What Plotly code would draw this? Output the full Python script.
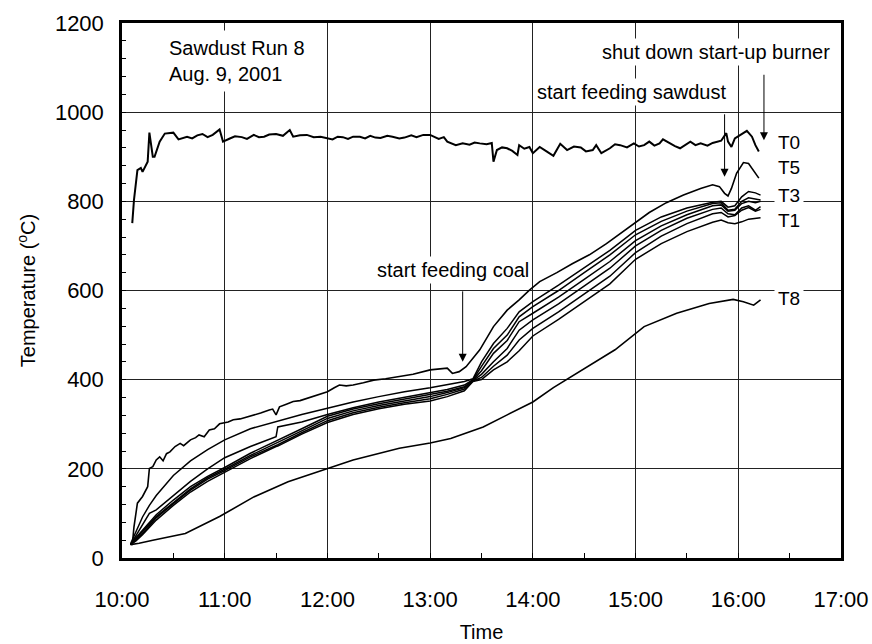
import plotly.graph_objects as go

DAY = "2001-08-09 "

# Furnace thermocouple T0
t0_time = ["10:06", "10:07", "10:09", "10:11", "10:12", "10:15", "10:16", "10:18", "10:19", "10:22",
           "10:25", "10:30", "10:33", "10:36", "10:38", "10:41", "10:44", "10:47", "10:50", "10:53",
           "10:57", "10:59", "11:01", "11:03", "11:06", "11:10", "11:13", "11:17", "11:20", "11:23",
           "11:26", "11:30", "11:34", "11:38", "11:40", "11:44", "11:48", "11:52", "11:56", "12:00",
           "12:03", "12:06", "12:09", "12:12", "12:15", "12:19", "12:22", "12:25", "12:28", "12:31",
           "12:35", "12:38", "12:42", "12:45", "12:49", "12:52", "12:56", "13:00", "13:05", "13:08",
           "13:10", "13:15", "13:19", "13:23", "13:26", "13:29", "13:33", "13:36", "13:37", "13:39",
           "13:42", "13:45", "13:48", "13:51", "13:52", "13:55", "13:58", "14:00", "14:02", "14:04",
           "14:08", "14:12", "14:16", "14:20", "14:24", "14:28", "14:31", "14:35", "14:37", "14:40",
           "14:45", "14:48", "14:51", "14:55", "14:59", "15:02", "15:05", "15:08", "15:11", "15:14",
           "15:16", "15:20", "15:23", "15:26", "15:29", "15:32", "15:35", "15:38", "15:42", "15:45",
           "15:50", "15:53", "15:54", "15:56", "15:58", "16:01", "16:05", "16:08", "16:10", "16:12"]
t0_vals = [751, 803, 870, 875, 866, 889, 954, 900, 900, 934,
           952, 954, 939, 943, 945, 941, 948, 951, 944, 949,
           961, 934, 938, 941, 946, 944, 940, 949, 944, 945,
           950, 951, 947, 960, 945, 948, 949, 944, 945, 941,
           939, 945, 944, 940, 945, 945, 941, 947, 943, 942,
           947, 945, 941, 943, 948, 944, 949, 949, 940, 944,
           934, 926, 930, 927, 932, 930, 928, 931, 889, 915,
           921, 919, 913, 904, 926, 918, 922, 908, 916, 922,
           912, 902, 929, 915, 923, 921, 912, 915, 926, 908,
           919, 928, 926, 921, 930, 923, 926, 934, 925, 930,
           939, 930, 924, 919, 927, 934, 926, 930, 925, 931,
           936, 953, 934, 922, 941, 949, 958, 945, 926, 912]

# T5
t5_time = ["10:06", "10:07", "10:09", "10:12", "10:15", "10:16", "10:18", "10:20", "10:22", "10:24",
           "10:26", "10:28", "10:31", "10:34", "10:36", "10:40", "10:43", "10:45", "10:48", "10:51",
           "10:54", "10:57", "11:02", "11:05", "11:09", "11:13", "11:17", "11:21", "11:26", "11:28",
           "11:30", "11:32", "11:36", "11:40", "11:44", "11:48", "11:54", "12:00", "12:04", "12:07",
           "12:11", "12:15", "12:21", "12:27", "12:34", "12:42", "12:50", "13:00", "13:05", "13:10",
           "13:13", "13:17", "13:21", "13:29", "13:37", "13:45", "13:52", "13:58", "14:04", "14:14",
           "14:23", "14:33", "14:43", "14:50", "14:59", "15:08", "15:18", "15:28", "15:38", "15:45",
           "15:49", "15:52", "15:54", "15:56", "15:59", "16:03", "16:06", "16:09", "16:12"]
t5_vals = [29, 70, 123, 138, 160, 201, 205, 220, 227, 218,
           234, 238, 250, 257, 252, 265, 270, 276, 272, 287,
           290, 301, 305, 310, 312, 316, 320, 325, 332, 334,
           321, 339, 345, 351, 353, 358, 365, 373, 382, 388,
           386, 388, 393, 399, 402, 407, 412, 422, 424, 426,
           414, 418, 429, 467, 519, 556, 579, 601, 620, 640,
           660, 680, 705, 725, 750, 775, 797, 814, 829, 837,
           833, 818, 812, 829, 863, 887, 885, 867, 852]

# Bed thermocouples sampled on a common time base
bed_time = ["10:05", "10:08", "10:12", "10:16", "10:20", "10:30", "10:40", "10:50", "11:00", "11:15",
            "11:30", "11:31", "11:45", "12:00", "12:15", "12:30", "12:45", "13:00", "13:10", "13:20",
            "13:25", "13:30", "13:37", "13:45", "13:52", "14:00", "14:15", "14:30", "14:45", "15:00",
            "15:15", "15:30", "15:45", "15:50", "15:54", "15:58", "16:02", "16:06", "16:10", "16:13"]
t3_vals = [32, 58, 92, 118, 140, 185, 218, 243, 265, 290,
           306, 307, 322, 336, 350, 362, 373, 382, 389, 396,
           402, 440, 481, 515, 552, 575, 612, 650, 690, 735,
           765, 785, 798, 800, 787, 790, 810, 822, 819, 814]
t2_vals = [30, 50, 75, 100, 108, 140, 172, 200, 225, 250,
           272, 294, 305, 322, 337, 350, 360, 370, 378, 388,
           400, 430, 470, 500, 541, 564, 600, 640, 680, 725,
           755, 778, 795, 797, 780, 782, 800, 808, 805, 803]
t4_vals = [30, 45, 62, 80, 97, 130, 160, 183, 203, 235,
           262, 263, 290, 318, 334, 346, 356, 366, 374, 384,
           399, 420, 459, 488, 530, 549, 585, 625, 665, 712,
           745, 770, 790, 792, 778, 780, 795, 800, 797, 800]
t6_vals = [30, 42, 58, 76, 93, 125, 155, 180, 199, 230,
           257, 258, 285, 313, 330, 342, 352, 362, 371, 382,
           398, 412, 440, 470, 511, 534, 570, 610, 650, 700,
           735, 762, 782, 785, 772, 770, 785, 790, 780, 788]
t7_vals = [30, 40, 55, 72, 90, 122, 152, 177, 196, 227,
           253, 254, 281, 308, 326, 338, 348, 357, 367, 379,
           397, 405, 430, 455, 489, 515, 552, 592, 632, 685,
           722, 750, 772, 775, 765, 768, 780, 786, 778, 782]
t1_vals = [30, 38, 52, 68, 85, 118, 148, 172, 192, 223,
           250, 251, 278, 304, 322, 335, 345, 352, 362, 375,
           396, 400, 422, 440, 465, 498, 535, 575, 615, 670,
           705, 732, 753, 758, 752, 750, 754, 760, 762, 763]

# T8
t8_time = ["10:05", "10:10", "10:18", "10:37", "10:57", "11:17", "11:37", "12:00", "12:15", "12:42",
           "13:00", "13:12", "13:31", "13:45", "14:00", "14:12", "14:29", "14:48", "15:05", "15:24",
           "15:43", "15:57", "16:03", "16:09", "16:13"]
t8_vals = [30, 33, 40, 55, 93, 137, 171, 201, 220, 246,
           258, 268, 294, 321, 350, 382, 422, 467, 519, 549,
           571, 580, 575, 567, 579]

# Curve labels at the right end
label_names = ["T0", "T5", "T3", "T1", "T8"]
label_y = [931, 875, 814, 758, 583]
label_x = "16:21"

# Events marked with arrows
event_text = ["start feeding coal", "start feeding sawdust", "shut down start-up burner"]
event_time = ["13:19", "15:52", "16:15"]
event_tip = [440, 855, 937]

FONT = "Liberation Sans, Arial, sans-serif"


def ts(hm_list):
    return [DAY + hm for hm in hm_list]


series = [
    ("T0", t0_time, t0_vals, 2.0),
    ("T5", t5_time, t5_vals, 1.6),
    ("T3", bed_time, t3_vals, 1.5),
    ("T2", bed_time, t2_vals, 1.5),
    ("T4", bed_time, t4_vals, 1.5),
    ("T6", bed_time, t6_vals, 1.5),
    ("T7", bed_time, t7_vals, 1.5),
    ("T1", bed_time, t1_vals, 1.5),
    ("T8", t8_time, t8_vals, 1.6),
]

fig = go.Figure()
for name, tt, vv, w in series:
    fig.add_trace(go.Scatter(x=ts(tt), y=vv, mode="lines", name=name,
                             line=dict(color="black", width=w)))

annotations = []
for name, yv in zip(label_names, label_y):
    annotations.append(dict(x=DAY + label_x, y=yv, xref="x", yref="y", text=name,
                            showarrow=False, xanchor="left", yanchor="middle",
                            font=dict(family=FONT, size=19, color="black"),
                            bgcolor="white", borderpad=3))

# arrows (tail offsets in px) and their texts (centre position in px)
arrow_len = [-72, -64, -67]
text_pos = [(453, 270), (631, 92), (716, 52)]
for txt, tm, tip, alen, (tx, ty) in zip(event_text, event_time, event_tip, arrow_len, text_pos):
    annotations.append(dict(x=DAY + tm, y=tip, xref="x", yref="y", text="",
                            showarrow=True, ax=0, ay=alen, arrowhead=2, arrowsize=1.6,
                            arrowwidth=1, arrowcolor="black"))
    annotations.append(dict(x=(tx - 122) / 719, y=(558 - ty) / 535, xref="paper", yref="paper",
                            text=txt, showarrow=False, xanchor="center", yanchor="middle",
                            font=dict(family=FONT, size=20, color="black"),
                            bgcolor="white", borderpad=2))

annotations.append(dict(x=(162 - 122) / 719, y=(558 - 61) / 535, xref="paper", yref="paper",
                        text="Sawdust Run 8<br>Aug. 9, 2001", align="left", showarrow=False,
                        xanchor="left", yanchor="middle",
                        font=dict(family=FONT, size=20, color="black"),
                        bgcolor="white", borderpad=6))

fig.update_layout(
    width=872, height=644,
    margin=dict(l=122, r=31, t=23, b=86),
    paper_bgcolor="white", plot_bgcolor="white",
    showlegend=False,
    font=dict(family=FONT, color="black"),
    annotations=annotations,
)

fig.update_xaxes(
    type="date",
    range=[DAY + "10:00", DAY + "17:00"],
    dtick=3600000, tick0=DAY + "10:00", tickformat="%H:%M",
    showgrid=True, gridcolor="#222", gridwidth=1,
    showline=True, linecolor="black", linewidth=2.5, mirror=True,
    ticks="inside", ticklen=5, tickcolor="black",
    minor=dict(dtick=1800000, ticks="inside", ticklen=5, tickcolor="black", showgrid=False),
    tickfont=dict(family=FONT, size=22),
    ticklabelstandoff=20,
    title=dict(text="Time", font=dict(family=FONT, size=20), standoff=14),
    zeroline=False, automargin=False,
)
fig.update_yaxes(
    range=[0, 1200], dtick=200,
    showgrid=True, gridcolor="#222", gridwidth=1,
    showline=True, linecolor="black", linewidth=2.5, mirror=True,
    ticks="inside", ticklen=4, tickcolor="black",
    minor=dict(dtick=40, ticks="inside", ticklen=4, tickcolor="black", showgrid=False),
    tickfont=dict(family=FONT, size=22),
    ticklabelstandoff=11,
    title=dict(text="Temperature (<sup>o</sup>C)", font=dict(family=FONT, size=20), standoff=14),
    zeroline=False, automargin=False,
)

fig.write_html("out.html")
